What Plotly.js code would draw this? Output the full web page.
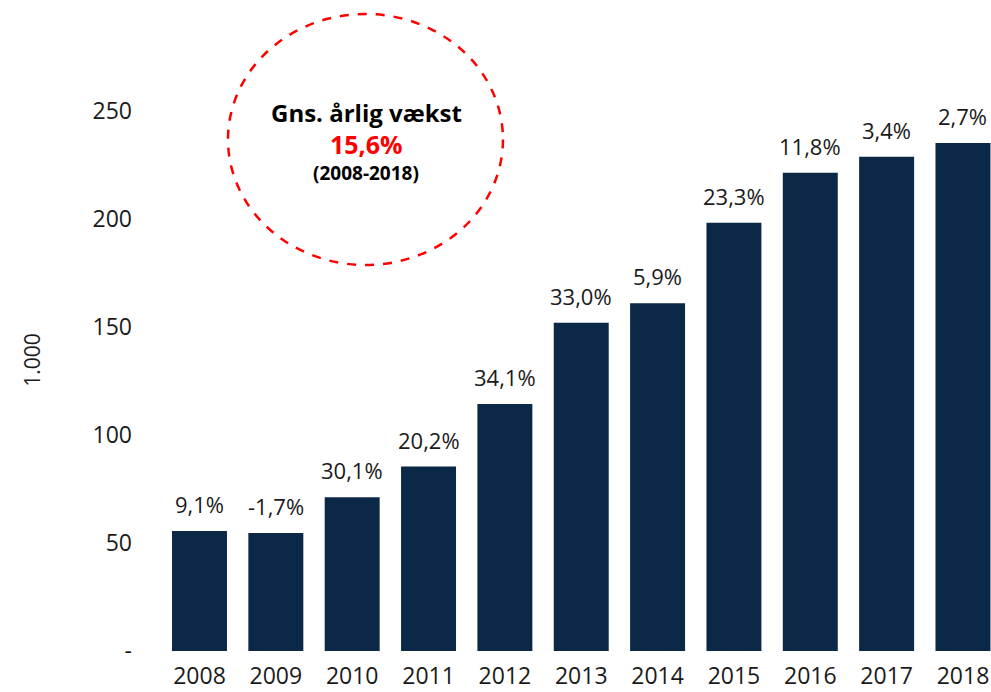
<!DOCTYPE html>
<html>
<head>
<meta charset="utf-8">
<script src="https://cdn.plot.ly/plotly-3.0.1.min.js"></script>
<style>
  body { margin: 0; background: #fff; }
  #chart { width: 991px; height: 692px; }
</style>
</head>
<body>
<div id="chart"></div>
<script>
// data (1.000 units)
var years = ['2008', '2009', '2010', '2011', '2012', '2013', '2014', '2015', '2016', '2017', '2018'];
var values = [55.6, 54.6, 71.2, 85.4, 114.4, 152.0, 161.0, 198.3, 221.5, 228.8, 235.2];
var growth = ['9,1%', '-1,7%', '30,1%', '20,2%', '34,1%', '33,0%', '5,9%', '23,3%', '11,8%', '3,4%', '2,7%'];
var yTicks = [0, 50, 100, 150, 200, 250];
var yTickText = ['-', '50', '100', '150', '200', '250'];

var font = 'Open Sans, Arial, sans-serif';
var ink = '#1a1a1a';

var annotations = [];
for (var i = 0; i < years.length; i++) {
  annotations.push({
    x: i, y: values[i], xref: 'x', yref: 'y',
    text: growth[i], showarrow: false,
    xanchor: 'center', yanchor: 'bottom', yshift: 10,
    font: { family: font, size: 22, color: ink }
  });
}

// the dashed circle box
annotations.push({
  xref: 'paper', yref: 'paper', x: 0.2461, y: 0.8395,
  xanchor: 'center', yanchor: 'middle',
  text: '<b>Gns. årlig vækst</b>', showarrow: false,
  font: { family: font, size: 24, color: '#000' }
});
annotations.push({
  xref: 'paper', yref: 'paper', x: 0.2461, y: 0.791,
  xanchor: 'center', yanchor: 'middle',
  text: '<b>15,6%</b>', showarrow: false,
  font: { family: font, size: 25, color: '#ff0000' }
});
annotations.push({
  xref: 'paper', yref: 'paper', x: 0.2461, y: 0.745,
  xanchor: 'center', yanchor: 'middle',
  text: '<b>(2008-2018)</b>', showarrow: false,
  font: { family: font, size: 19, color: '#000' }
});
annotations.push({
  xref: 'paper', yref: 'paper', x: -0.157, y: 0.454,
  xanchor: 'center', yanchor: 'middle',
  text: '1.000', textangle: -90, showarrow: false,
  font: { family: font, size: 21, color: ink }
});

var data = [{
  type: 'bar',
  x: years,
  y: values,
  marker: { color: '#0b2846' },
  hoverinfo: 'x+y'
}];

var layout = {
  width: 991,
  height: 692,
  margin: { l: 162, r: 0, t: 10, b: 41 },
  paper_bgcolor: '#fff',
  plot_bgcolor: '#fff',
  showlegend: false,
  bargap: 0.28,
  font: { family: font, color: ink },
  xaxis: {
    type: 'category',
    range: [-0.491, 10.367],
    showline: false, showgrid: false, zeroline: false,
    ticks: '', ticklabelstandoff: 9,
    tickfont: { family: font, size: 23, color: ink }
  },
  yaxis: {
    range: [0, 296.8],
    tickvals: yTicks, ticktext: yTickText,
    showline: false, showgrid: false, zeroline: false,
    ticks: '', ticklabelstandoff: 29,
    tickfont: { family: font, size: 23, color: ink }
  },
  shapes: [{
    type: 'circle', xref: 'paper', yref: 'paper',
    x0: 0.0796, x1: 0.4113, y0: 0.6022, y1: 0.9938,
    line: { color: '#ff0000', width: 2.5, dash: 'dash' }
  }],
  annotations: annotations
};

Plotly.newPlot('chart', data, layout, { displayModeBar: false, staticPlot: true });
</script>
</body>
</html>
